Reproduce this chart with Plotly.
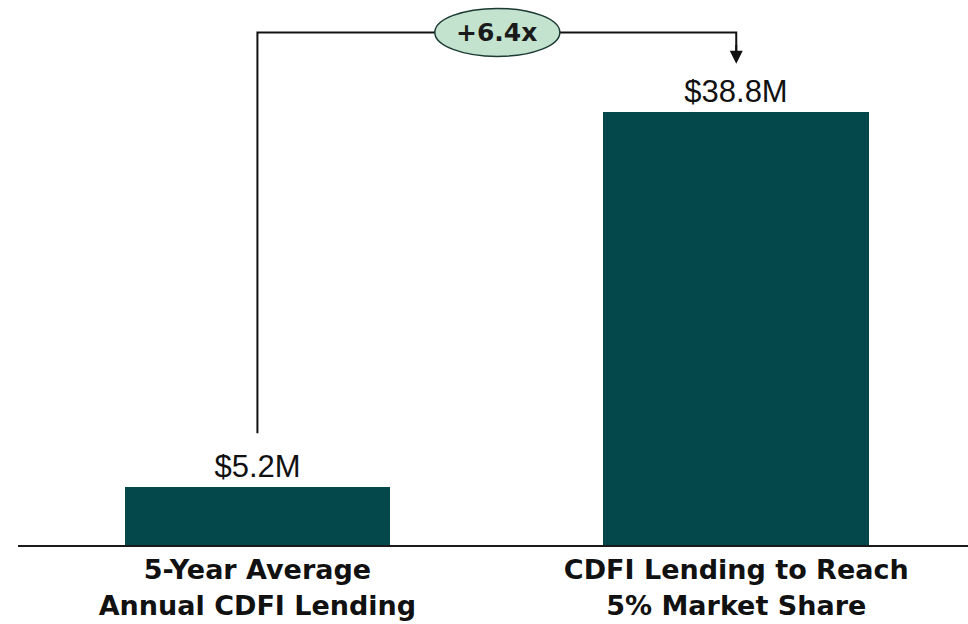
import plotly.graph_objects as go

# Data
categories = ["5-Year Average<br>Annual CDFI Lending", "CDFI Lending to Reach<br>5% Market Share"]
values = [5.2, 38.8]
value_labels = ["$5.2M", "$38.8M"]
multiplier_label = "+6.4x"

BAR_COLOR = "#04484b"
BUBBLE_FILL = "#c3e3cf"
LINE_COLOR = "#111111"

x_pos = [0, 1]

fig = go.Figure()

fig.add_trace(go.Bar(
    x=x_pos,
    y=values,
    width=0.555,
    marker=dict(color=BAR_COLOR, line=dict(width=0)),
    text=value_labels,
    textposition="outside",
    textfont=dict(family="Liberation Sans, Arial, sans-serif", size=31, color="#111111"),
    cliponaxis=False,
    hoverinfo="skip",
))

# Elbow connector from the first bar's label up and over to the second bar
start_y = values[0] + 4.8
top_y = values[1] + 7.1
tip_y = values[1] + 4.3
fig.add_trace(go.Scatter(
    x=[x_pos[0], x_pos[0], x_pos[1], x_pos[1]],
    y=[start_y, top_y, top_y, tip_y + 0.8],
    mode="lines",
    line=dict(color=LINE_COLOR, width=2),
    hoverinfo="skip",
    cliponaxis=False,
))
fig.add_annotation(
    x=x_pos[1], y=tip_y, ax=x_pos[1], ay=top_y - 1.0,
    xref="x", yref="y", axref="x", ayref="y",
    showarrow=True, arrowhead=2, arrowsize=1.3, arrowwidth=2,
    arrowcolor=LINE_COLOR, standoff=0, text="",
)

# Multiplier bubble centred on the connector
mid_x = (x_pos[0] + x_pos[1]) / 2
fig.add_shape(
    type="circle",
    xref="x", yref="y",
    xsizemode="pixel", ysizemode="pixel",
    xanchor=mid_x, yanchor=top_y,
    x0=-62, x1=63, y0=-24, y1=24,
    fillcolor=BUBBLE_FILL,
    line=dict(color="#1c3a33", width=1.5),
    layer="above",
)
fig.add_annotation(
    x=mid_x, y=top_y, xref="x", yref="y",
    text="<b>" + multiplier_label + "</b>",
    showarrow=False,
    font=dict(family="DejaVu Sans, sans-serif", size=25, color="#1a1a1a"),
)

fig.update_layout(
    width=968, height=624,
    margin=dict(l=18, r=0, t=0, b=79),
    paper_bgcolor="white",
    plot_bgcolor="white",
    showlegend=False,
    bargap=0,
)
fig.update_xaxes(
    range=[-0.5, 1.484],
    tickmode="array",
    tickvals=x_pos,
    ticktext=["<b>" + c + "</b>" for c in categories],
    tickfont=dict(family="DejaVu Sans, sans-serif", size=27, color="#111111"),
    showline=True, linecolor="#1a1a1a", linewidth=2,
    showgrid=False, zeroline=False, ticks="",
    fixedrange=True,
)
fig.update_yaxes(
    range=[0, 48.8],
    visible=False,
    showgrid=False, zeroline=False,
    fixedrange=True,
)

fig.write_html("out.html")
